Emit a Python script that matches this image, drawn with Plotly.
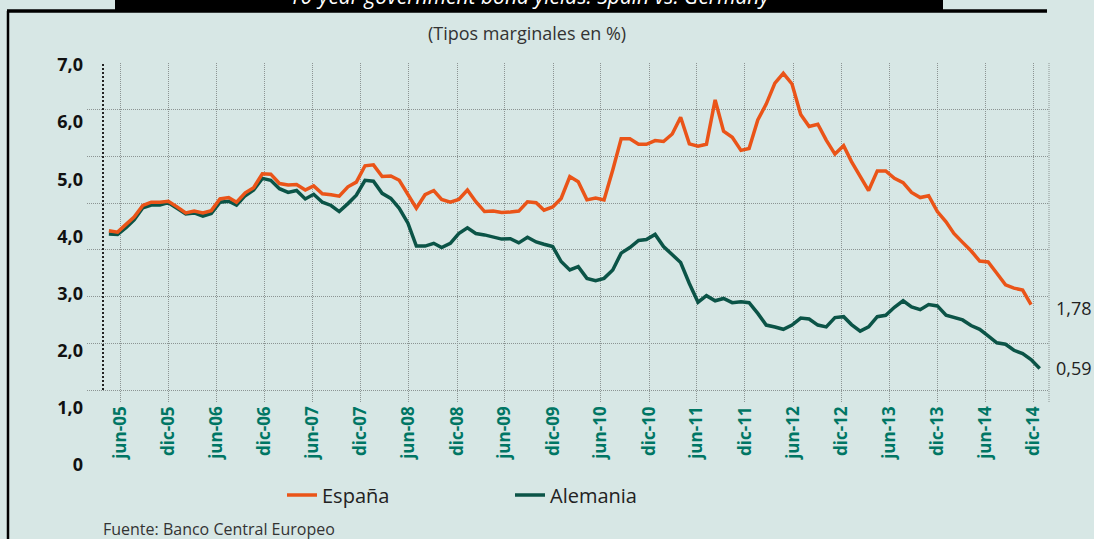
import pandas as pd
import plotly.graph_objects as go

W, H = 1094, 539

# ---- data (monthly 10-year yields, %) ----
months = pd.date_range("2005-12-01", "2015-01-01", freq="MS")

espana = [3.41, 3.38, 3.55, 3.70, 3.95, 4.02, 4.02, 4.04, 3.92, 3.79, 3.83, 3.79,
          3.84, 4.09, 4.12, 4.02, 4.22, 4.33, 4.63, 4.62, 4.42, 4.39, 4.40, 4.28,
          4.37, 4.20, 4.18, 4.15, 4.35, 4.45, 4.80, 4.82, 4.57, 4.58, 4.49, 4.19,
          3.89, 4.18, 4.27, 4.08, 4.02, 4.08, 4.28, 4.03, 3.82, 3.83, 3.80, 3.81,
          3.83, 4.03, 4.01, 3.85, 3.92, 4.10, 4.57, 4.46, 4.07, 4.11, 4.07, 4.71,
          5.38, 5.38, 5.26, 5.26, 5.34, 5.32, 5.48, 5.84, 5.27, 5.22, 5.26, 6.21,
          5.54, 5.41, 5.13, 5.17, 5.78, 6.12, 6.57, 6.78, 6.55, 5.90, 5.64, 5.69,
          5.35, 5.05, 5.23, 4.89, 4.57, 4.27, 4.69, 4.69, 4.53, 4.44, 4.23, 4.12,
          4.16, 3.82, 3.60, 3.35, 3.16, 2.98, 2.76, 2.74, 2.50, 2.25, 2.18, 2.14,
          1.83]

alemania = [3.34, 3.33, 3.48, 3.64, 3.90, 3.96, 3.96, 4.01, 3.89, 3.77, 3.79, 3.72,
            3.78, 4.02, 4.04, 3.96, 4.16, 4.28, 4.53, 4.49, 4.31, 4.23, 4.27, 4.09,
            4.19, 4.02, 3.95, 3.82, 3.99, 4.17, 4.49, 4.47, 4.21, 4.10, 3.89, 3.57,
            3.08, 3.08, 3.14, 3.05, 3.14, 3.35, 3.47, 3.35, 3.32, 3.27, 3.23, 3.24,
            3.15, 3.27, 3.17, 3.12, 3.07, 2.75, 2.57, 2.64, 2.39, 2.34, 2.39, 2.57,
            2.93, 3.05, 3.20, 3.22, 3.33, 3.07, 2.90, 2.73, 2.28, 1.88, 2.02, 1.91,
            1.96, 1.87, 1.89, 1.87, 1.64, 1.39, 1.35, 1.30, 1.39, 1.54, 1.52, 1.39,
            1.35, 1.55, 1.57, 1.40, 1.26, 1.35, 1.57, 1.60, 1.77, 1.91, 1.78, 1.72,
            1.83, 1.80, 1.60, 1.55, 1.50, 1.38, 1.30, 1.16, 1.01, 0.98, 0.85, 0.78,
            0.65, 0.46]

tick_dates = pd.date_range("2005-06-01", "2014-12-01", freq="6MS")
tick_labels = ["jun-05", "dic-05", "jun-06", "dic-06", "jun-07", "dic-07",
               "jun-08", "dic-08", "jun-09", "dic-09", "jun-10", "dic-10",
               "jun-11", "dic-11", "jun-12", "dic-12", "jun-13", "dic-13",
               "jun-14", "dic-14"]

y_label_vals = [0, 1, 2, 3, 4, 5, 6, 7]
y_label_text = ["0", "1,0", "2,0", "3,0", "4,0", "5,0", "6,0", "7,0"]

last_labels = ["1,78", "0,59"]

# ---- styles ----
BG = "#d7e7e5"
ORANGE = "#ea5418"
GREEN = "#0b5447"
TEAL = "#007664"
GRID = "#8c9493"
FONT = "Open Sans"


def px(x):
    return x / W


def py(y):
    return 1 - y / H


fig = go.Figure()
fig.add_trace(go.Scatter(x=months, y=alemania, name="Alemania", mode="lines",
                         line=dict(color=GREEN, width=3.5), legendrank=2,
                         hoverinfo="skip"))
fig.add_trace(go.Scatter(x=months[:len(espana)], y=espana, name="España", mode="lines",
                         line=dict(color=ORANGE, width=3.5), legendrank=1,
                         hoverinfo="skip"))
# carriers for the label axes
fig.add_trace(go.Scatter(x=tick_dates, y=[None] * len(tick_dates), xaxis="x2", yaxis="y",
                         showlegend=False, hoverinfo="skip", mode="lines"))
fig.add_trace(go.Scatter(x=[months[0]], y=[None], xaxis="x", yaxis="y2",
                         showlegend=False, hoverinfo="skip", mode="lines"))

fig.update_layout(
    width=W, height=H,
    margin=dict(l=0, r=0, t=0, b=0),
    paper_bgcolor=BG, plot_bgcolor="rgba(0,0,0,0)",
    font=dict(family=FONT, color="#222"),
    xaxis=dict(domain=[px(87), px(1049)], type="date",
               range=["2005-09-14", "2015-02-03"], visible=False, anchor="y"),
    xaxis2=dict(overlaying="x", anchor="y", side="bottom", type="date",
                range=["2005-01-24", "2015-01-30"],
                tickvals=tick_dates, ticktext=tick_labels, tickangle=-90,
                tickfont=dict(family=FONT, size=17, color=TEAL, weight="bold"),
                showgrid=True, gridcolor=GRID, griddash="1px,1px", gridwidth=1,
                ticks="", showline=False, zeroline=False, automargin=False),
    yaxis=dict(domain=[py(402), py(63)], range=[-0.2569, 7], anchor="x",
               tickvals=y_label_vals, showticklabels=False,
               showgrid=True, gridcolor=GRID, griddash="1px,1px", gridwidth=1,
               zeroline=False, showline=False, ticks="", automargin=False),
    yaxis2=dict(domain=[py(465), py(65)], anchor="free", position=px(87),
                range=[0, 7], tickvals=y_label_vals, ticktext=y_label_text,
                tickfont=dict(family=FONT, size=18, color="#111", weight="bold"),
                ticklabelstandoff=4,
                showgrid=False, zeroline=False, showline=False, ticks="",
                automargin=False),
    legend=dict(orientation="h", x=px(282), xanchor="left", y=py(495), yanchor="middle",
                bgcolor="rgba(0,0,0,0)", entrywidth=183, entrywidthmode="pixels",
                font=dict(family=FONT, size=20, color="#222"), traceorder="normal"),
    showlegend=True,
)

shapes = [
    dict(type="rect", xref="paper", yref="paper", x0=px(115), x1=px(943),
         y0=py(12), y1=1.05, fillcolor="black", line=dict(width=0)),
    dict(type="line", xref="paper", yref="paper", x0=px(7), x1=px(1047),
         y0=py(11), y1=py(11), line=dict(color="black", width=3.5)),
    dict(type="line", xref="paper", yref="paper", x0=px(8), x1=px(8),
         y0=py(11), y1=-0.02, line=dict(color="black", width=2.5)),
    dict(type="line", xref="paper", yref="y", x0=px(103), x1=px(103),
         y0=0, y1=7, line=dict(color="#222", width=2, dash="2px,2px")),
    dict(type="line", xref="x domain", yref="y domain", x0=1, x1=1, y0=0, y1=1,
         line=dict(color=GRID, width=1, dash="1px,1px")),
]
fig.update_layout(shapes=shapes)

annotations = [
    dict(text="<i>10-year government bond yields: Spain vs. Germany</i>",
         xref="paper", yref="paper", x=px(529), y=py(-4), xanchor="center",
         yanchor="middle", showarrow=False,
         font=dict(family=FONT, size=21, color="white")),
    dict(text="(Tipos marginales en %)", xref="paper", yref="paper",
         x=px(527), y=py(33), xanchor="center", yanchor="middle", showarrow=False,
         font=dict(family=FONT, size=18, color="#333")),
    dict(text="Fuente: Banco Central Europeo", xref="paper", yref="paper",
         x=px(101), y=py(529), xanchor="left", yanchor="middle", showarrow=False,
         font=dict(family=FONT, size=16, color="#333")),
    dict(text=last_labels[0], xref="paper", yref="paper",
         x=px(1054), y=py(308), xanchor="left", yanchor="middle", showarrow=False,
         font=dict(family=FONT, size=18, color="#222")),
    dict(text=last_labels[1], xref="paper", yref="paper",
         x=px(1054), y=py(368), xanchor="left", yanchor="middle", showarrow=False,
         font=dict(family=FONT, size=18, color="#222")),
]
fig.update_layout(annotations=annotations)

fig.write_html("out.html",
               config={"displayModeBar": False},
               post_script="document.body.style.margin='0';"
                           "document.body.style.overflow='hidden';")
